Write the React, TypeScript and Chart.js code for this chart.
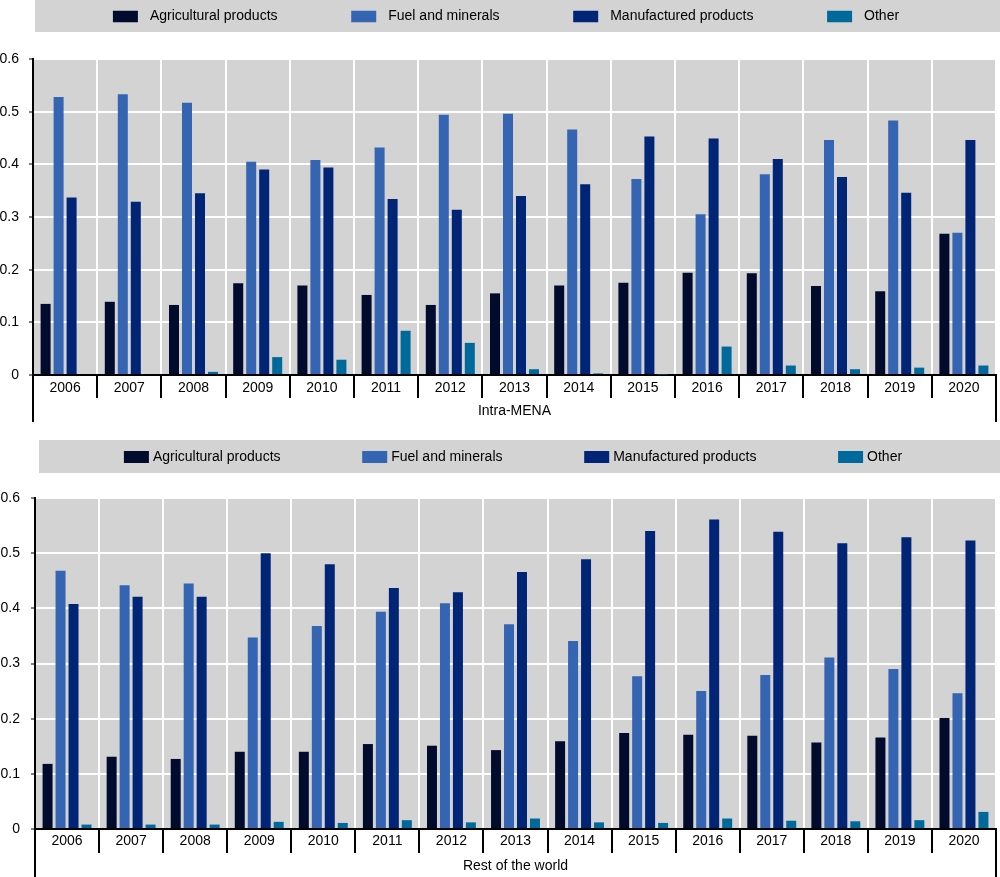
import React, { useEffect, useRef } from 'react';
import { Chart, registerables } from 'chart.js';

Chart.register(...registerables);

const FONT = "Arial, 'Liberation Sans', Helvetica, sans-serif";

const years = ['2006', '2007', '2008', '2009', '2010', '2011', '2012', '2013', '2014', '2015', '2016', '2017', '2018', '2019', '2020'];
const seriesLabels = ['Agricultural products', 'Fuel and minerals', 'Manufactured products', 'Other'];
const seriesColors = ['#000b2e', '#3564b2', '#002476', '#00699b'];
const yTicks = [0, 0.1, 0.2, 0.3, 0.4, 0.5, 0.6];

// Intra-MENA
const intraAgri = [0.135, 0.139, 0.133, 0.174, 0.170, 0.152, 0.133, 0.155, 0.170, 0.175, 0.194, 0.193, 0.169, 0.159, 0.268];
const intraFuel = [0.528, 0.533, 0.517, 0.405, 0.408, 0.432, 0.494, 0.496, 0.466, 0.372, 0.305, 0.381, 0.446, 0.483, 0.270];
const intraManu = [0.337, 0.329, 0.345, 0.390, 0.394, 0.334, 0.314, 0.340, 0.362, 0.453, 0.449, 0.410, 0.376, 0.346, 0.446];
const intraOther = [0, 0, 0.006, 0.034, 0.029, 0.084, 0.061, 0.011, 0.003, 0.001, 0.054, 0.018, 0.011, 0.014, 0.018];

// Rest of the world
const rowAgri = [0.118, 0.131, 0.127, 0.140, 0.140, 0.154, 0.151, 0.143, 0.159, 0.174, 0.171, 0.169, 0.157, 0.166, 0.201];
const rowFuel = [0.468, 0.442, 0.445, 0.347, 0.368, 0.394, 0.409, 0.371, 0.341, 0.277, 0.250, 0.279, 0.311, 0.290, 0.246];
const rowManu = [0.408, 0.421, 0.421, 0.500, 0.480, 0.437, 0.429, 0.466, 0.489, 0.540, 0.561, 0.539, 0.518, 0.529, 0.523];
const rowOther = [0.008, 0.008, 0.008, 0.013, 0.011, 0.016, 0.012, 0.019, 0.012, 0.011, 0.019, 0.015, 0.014, 0.016, 0.031];

const bgPlugin = {
  id: 'plotBg',
  beforeDraw(chart: any) {
    const { ctx, chartArea } = chart;
    ctx.save();
    ctx.fillStyle = '#d3d3d3';
    ctx.fillRect(chartArea.left, chartArea.top, chartArea.right - chartArea.left, chartArea.bottom - chartArea.top);
    ctx.restore();
  },
};

const boxLegendPlugin = {
  id: 'boxLegend',
  beforeDraw(chart: any, _args: any, opts: any) {
    const { ctx } = chart;
    ctx.save();
    ctx.fillStyle = '#d3d3d3';
    ctx.fillRect(opts.left, opts.top, chart.width - opts.left, opts.height);
    ctx.font = `${opts.fontSize}px ${FONT}`;
    ctx.textBaseline = 'middle';
    ctx.textAlign = 'left';
    const items = chart.data.datasets.map((ds: any) => ({
      label: ds.label,
      color: ds.backgroundColor,
      w: ctx.measureText(ds.label).width,
    }));
    const total =
      items.reduce((s: number, it: any) => s + opts.boxW + opts.textGap + it.w, 0) + opts.itemGap * (items.length - 1);
    let x = opts.center - total / 2;
    const cy = opts.top + opts.height / 2 + 0.5;
    items.forEach((it: any) => {
      ctx.fillStyle = it.color;
      ctx.fillRect(x, cy - opts.boxH / 2, opts.boxW, opts.boxH);
      ctx.fillStyle = '#000';
      ctx.fillText(it.label, x + opts.boxW + opts.textGap, cy);
      x += opts.boxW + opts.textGap + it.w + opts.itemGap;
    });
    ctx.restore();
  },
};

const framePlugin = {
  id: 'sideFrame',
  afterDraw(chart: any, _args: any, opts: any) {
    const { ctx, chartArea } = chart;
    ctx.save();
    ctx.strokeStyle = '#000';
    ctx.lineWidth = 2;
    ctx.beginPath();
    ctx.moveTo(chartArea.left, chartArea.bottom);
    ctx.lineTo(chartArea.left, opts.bottom);
    ctx.moveTo(chartArea.right, chartArea.bottom);
    ctx.lineTo(chartArea.right, opts.bottom);
    ctx.stroke();
    ctx.restore();
  },
};

type PanelCfg = {
  height: number;
  plotTop: number;
  xHeight: number;
  tickLen: number;
  labelPad: number;
  titlePad: number;
  yWidth: number;
  yPad: number;
  frameBottom: number;
  legend: any;
};

function ChartPanel({ title, series, cfg }: { title: string; series: number[][]; cfg: PanelCfg }) {
  const ref = useRef<HTMLCanvasElement | null>(null);
  useEffect(() => {
    if (!ref.current) return;
    const tickFont = { size: 14, family: FONT };
    const chart = new Chart(ref.current, {
      type: 'bar',
      data: {
        labels: years,
        datasets: series.map((vals, i) => ({
          label: seriesLabels[i],
          data: vals,
          backgroundColor: seriesColors[i],
          borderWidth: 0,
          barPercentage: 0.77,
          categoryPercentage: 0.81,
        })),
      },
      options: {
        animation: false,
        responsive: false,
        events: [],
        layout: { padding: { top: cfg.plotTop, right: 4, left: 0, bottom: 0 } },
        plugins: {
          legend: { display: false },
          tooltip: { enabled: false },
          boxLegend: cfg.legend,
          sideFrame: { bottom: cfg.frameBottom },
        } as any,
        scales: {
          x: {
            offset: true,
            grid: {
              offset: true,
              color: (c: any) => (c.index === 0 ? 'rgba(0,0,0,0)' : '#ffffff'),
              lineWidth: 2,
              tickColor: '#000',
              tickWidth: 2,
              tickLength: cfg.tickLen,
            },
            border: { display: true, color: '#000', width: 2 },
            ticks: {
              padding: cfg.labelPad,
              font: tickFont,
              color: '#000',
              maxRotation: 0,
              autoSkip: false,
            },
            title: {
              display: true,
              text: title,
              font: tickFont,
              color: '#000',
              padding: { top: 0, bottom: cfg.titlePad },
            },
            afterFit: (s: any) => {
              s.height = cfg.xHeight;
            },
          } as any,
          y: {
            min: yTicks[0],
            max: yTicks[yTicks.length - 1],
            afterBuildTicks: (s: any) => {
              s.ticks = yTicks.map((v) => ({ value: v }));
            },
            ticks: {
              padding: cfg.yPad,
              font: tickFont,
              color: '#000',
              callback: (v: any) => (Number(v) === 0 ? '0' : Number(v).toFixed(1)),
            },
            grid: {
              color: (c: any) => (c.tick && c.tick.value === 0 ? 'rgba(0,0,0,0)' : '#ffffff'),
              lineWidth: 2,
              tickColor: '#000',
              tickWidth: 1,
              tickLength: 4,
            },
            border: { display: true, color: '#000', width: 2 },
            afterFit: (s: any) => {
              s.width = cfg.yWidth;
            },
          } as any,
        },
      },
      plugins: [bgPlugin, boxLegendPlugin, framePlugin],
    });
    return () => chart.destroy();
  }, []);
  return <canvas ref={ref} width={1000} height={cfg.height} style={{ display: 'block', width: 1000, height: cfg.height }} />;
}

const topCfg: PanelCfg = {
  height: 430,
  plotTop: 59,
  xHeight: 55,
  tickLen: 23,
  labelPad: -18,
  titlePad: 10,
  yWidth: 33,
  yPad: 10,
  frameBottom: 422,
  legend: { left: 35, top: 0, height: 32, center: 506, boxW: 25, boxH: 11.5, textGap: 12, itemGap: 73.7, fontSize: 14 },
};

const bottomCfg: PanelCfg = {
  height: 447,
  plotTop: 68,
  xHeight: 48,
  tickLen: 24,
  labelPad: -20,
  titlePad: 2,
  yWidth: 35,
  yPad: 11,
  frameBottom: 447,
  legend: { left: 39, top: 10, height: 33, center: 513, boxW: 25, boxH: 12, textGap: 4, itemGap: 81.7, fontSize: 14 },
};

export default function App() {
  return (
    <div style={{ position: 'absolute', left: 0, top: 0, width: 1000, height: 877, background: '#fff' }}>
      <ChartPanel title="Intra-MENA" series={[intraAgri, intraFuel, intraManu, intraOther]} cfg={topCfg} />
      <ChartPanel title="Rest of the world" series={[rowAgri, rowFuel, rowManu, rowOther]} cfg={bottomCfg} />
    </div>
  );
}
